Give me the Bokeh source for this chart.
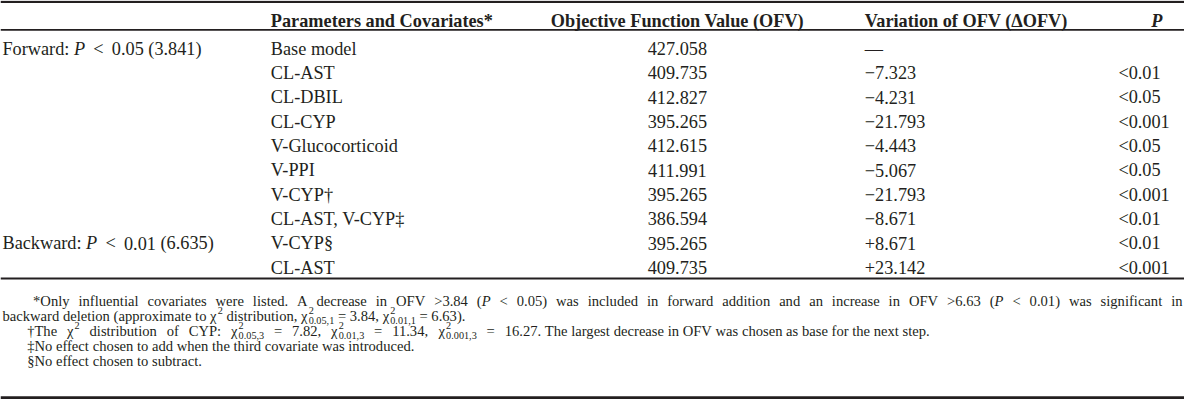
import re
from bokeh.plotting import figure
from bokeh.models import Range1d, ColumnDataSource
from bokeh.embed import file_html
from bokeh.resources import INLINE
from bokeh.core.properties import value

# ---------------- data ----------------
headers = ["", "Parameters and Covariates*", "Objective Function Value (OFV)",
           "Variation of OFV (\u0394OFV)", "P"]
step_rows = [0, 8]
step_names = ["Forward:", "Backward:"]
step_p_levels = ["0.05", "0.01"]
step_thresholds = ["3.841", "6.635"]
params = ["Base model", "CL-AST", "CL-DBIL", "CL-CYP", "V-Glucocorticoid", "V-PPI",
          "V-CYP\u2020", "CL-AST, V-CYP\u2021", "V-CYP\u00a7", "CL-AST"]
ofv = [427.058, 409.735, 412.827, 395.265, 412.615, 411.991, 395.265, 386.594, 395.265, 409.735]
delta_ofv = [None, -7.323, -4.231, -21.793, -4.443, -5.067, -21.793, -8.671, 8.671, 23.142]
p_values = ["", "<0.01", "<0.05", "<0.001", "<0.05", "<0.05", "<0.001", "<0.01", "<0.01", "<0.001"]

CHI = "\u03c7"
footnotes = [
    [("*Only influential covariates were listed. A decrease in OFV >3.84 (", "n"), ("P", "i"),
     (" < 0.05) was included in forward addition and an increase in OFV >6.63 (", "n"), ("P", "i"),
     (" < 0.01) was significant in", "n")],
    [("backward deletion (approximate to ", "n"), (CHI, "n"), (("2", ""), "ss"), (" distribution, ", "n"),
     (CHI, "n"), (("2", "0.05,1"), "ss"), (" = 3.84, ", "n"), (CHI, "n"), (("2", "0.01,1"), "ss"),
     (" = 6.63).", "n")],
    [("\u2020The ", "n"), (CHI, "n"), (("2", ""), "ss"), (" distribution of CYP: ", "n"),
     (CHI, "n"), (("2", "0.05,3"), "ss"), (" = 7.82, ", "n"), (CHI, "n"), (("2", "0.01,3"), "ss"),
     (" = 11.34, ", "n"), (CHI, "n"), (("2", "0.001,3"), "ss"), (" = 16.27.", "n"),
     ("The largest decrease in OFV was chosen as base for the next step.", "n")],
    [("\u2021No effect chosen to add when the third covariate was introduced.", "n")],
    [("\u00a7No effect chosen to subtract.", "n")],
]

# ---------------- layout (data units == reference-image pixels) ----------------
REF_W, REF_H = 1200, 416
FIG_W, FIG_H = 1184, 400
SX, SY = FIG_W / REF_W, FIG_H / REF_H
INK = "#231f20"
FONT = "Liberation Serif"

F_MAIN = 18.5
F_NOTE = 14.8
SS_SCALE = 0.7

col0_x, col1_x, col2_cx, col3_x, col4_x, col4_cx = 2, 274, 686, 876, 1133, 1172
top_rule_y, header_base, header_rule_y = 1.5, 21, 30.5
row_base0, row_pitch = 50, 25.3
table_rule_y = 289
note_base = [313, 328.5, 344, 359.5, 375]
note_x = [33, 2, 27, 27, 27]
# line k: first `cut` segments spread out to x, the rest follows after a space
note_stretch = {0: (None, 1198), 2: (13, 548)}
bottom_rule_y = 413

_chars = (" !\"#$%&'()*+,-./" + "0123456789" + ":;<=>?@" + "ABCDEFGHIJKLMNOPQRSTUVWXYZ"
          + "[\\]^_`" + "abcdefghijklmnopqrstuvwxyz")
_w = ([250, 333, 408, 500, 500, 833, 778, 180, 333, 333, 500, 564, 250, 333, 250, 278]
      + [500] * 10 + [278, 278, 564, 564, 564, 444, 921]
      + [722, 667, 667, 722, 611, 556, 722, 722, 333, 389, 722, 611, 889, 722, 722, 556, 722, 667,
         556, 611, 722, 722, 944, 722, 722, 611]
      + [333, 278, 333, 469, 500, 333]
      + [444, 500, 444, 500, 444, 333, 500, 500, 278, 278, 500, 278, 778, 500, 500, 500, 500, 333,
         389, 278, 500, 500, 722, 500, 500, 444])
WID = dict(zip(_chars, _w))
WID.update({CHI: 520, "\u2020": 500, "\u2021": 500, "\u00a7": 500, "\u2212": 564, "\u2014": 1000,
            "\u0394": 612})
ITAL = {"P": 611}


def tw(s, style, f):
    tab = ITAL if style == "i" else {}
    return sum(tab.get(c, WID.get(c, 500)) for c in s) / 1000.0 * f


left = {"x": [], "y": [], "text": [], "style": [], "size": []}
center = {"x": [], "y": [], "text": [], "style": [], "size": []}


def put(d, x, y, t, style, f):
    d["x"].append(x); d["y"].append(y); d["text"].append(t)
    d["style"].append(style); d["size"].append("%.2fpx" % (f * SX))


def atomize(segs):
    atoms = []
    for t, st in segs:
        if st in ("ss", "g"):
            atoms.append((st, t))
            continue
        for part in re.split(r"( )", t):
            if part == "":
                continue
            atoms.append(("sp", part) if part == " " else (st, part))
    return atoms


def layout_line(segs, x0, y, f, justify_to=None):
    atoms = atomize(segs)

    def aw(a):
        st, t = a
        if st == "ss":
            return max(tw(t[0], "n", f * SS_SCALE), tw(t[1], "n", f * SS_SCALE))
        if st == "sp":
            return tw(" ", "n", f)
        if st == "g":
            return t * f
        return tw(t, st, f)

    extra = 0.0
    if justify_to is not None:
        nat = sum(aw(a) for a in atoms)
        nsp = sum(1 for a in atoms if a[0] == "sp")
        if nsp:
            extra = max(0.0, (justify_to - x0 - nat) / nsp)
    x = x0
    fv = f * SX / SY
    for a in atoms:
        st, t = a
        if st == "ss":
            fs = f * SS_SCALE
            if t[0]:
                put(left, x, y - 0.37 * fv, t[0], "normal", fs)
            if t[1]:
                put(left, x, y + 0.27 * fv, t[1], "normal", fs)
        elif st == "sp":
            x += extra
        elif st != "g":
            put(left, x, y, t, "italic" if st == "i" else "normal", f)
        x += aw(a)
    return x


# header
put(left, col1_x, header_base, headers[1], "bold", F_MAIN)
put(center, col2_cx, header_base, headers[2], "bold", F_MAIN)
put(left, col3_x, header_base, headers[3], "bold", F_MAIN)
put(center, col4_cx, header_base, headers[4], "bold italic", F_MAIN)

# body
for i in range(len(params)):
    yb = row_base0 + i * row_pitch
    if i in step_rows:
        k = step_rows.index(i)
        layout_line([(step_names[k], "n"), (0.25, "g"), ("P", "i"), (0.45, "g"), ("<", "n"),
                     (0.45, "g"), ("%s (%s)" % (step_p_levels[k], step_thresholds[k]), "n")],
                    col0_x, yb, F_MAIN)
    put(left, col1_x, yb, params[i], "normal", F_MAIN)
    put(center, col2_cx, yb, "%.3f" % ofv[i], "normal", F_MAIN)
    d = delta_ofv[i]
    dt = "\u2014" if d is None else ("\u2212" if d < 0 else "+") + "%.3f" % abs(d)
    put(left, col3_x, yb, dt, "normal", F_MAIN)
    if p_values[i]:
        put(left, col4_x, yb, p_values[i], "normal", F_MAIN)

# footnotes
for k, segs in enumerate(footnotes):
    if k in note_stretch:
        cut, to_x = note_stretch[k]
        if cut is None:
            layout_line(segs, note_x[k], note_base[k], F_NOTE, to_x)
        else:
            layout_line(segs[:cut], note_x[k], note_base[k], F_NOTE, to_x)
            layout_line(segs[cut:], to_x + tw(" ", "n", F_NOTE), note_base[k], F_NOTE)
    else:
        layout_line(segs, note_x[k], note_base[k], F_NOTE)

p = figure(width=FIG_W, height=FIG_H, output_backend="svg", toolbar_location=None,
           x_range=Range1d(0, REF_W), y_range=Range1d(REF_H, 0),
           min_border=0, min_border_left=0, min_border_right=0, min_border_top=0, min_border_bottom=0)
p.axis.visible = False
p.grid.visible = False
p.outline_line_color = None
p.background_fill_color = "white"
p.border_fill_color = "white"

rules_y = [top_rule_y, header_rule_y, table_rule_y, bottom_rule_y]
rules_w = [2.2, 1.8, 2.0, 2.6]
p.segment(x0=[0] * 4, x1=[REF_W] * 4, y0=rules_y, y1=rules_y, line_width=rules_w, line_color=INK)

p.text(x="x", y="y", text="text", source=ColumnDataSource(left), text_font=value(FONT),
       text_font_style="style", text_font_size="size", text_color=INK,
       text_align="left", text_baseline="alphabetic")
p.text(x="x", y="y", text="text", source=ColumnDataSource(center), text_font=value(FONT),
       text_font_style="style", text_font_size="size", text_color=INK,
       text_align="center", text_baseline="alphabetic")

open("out.html", "w").write(file_html(p, INLINE))
